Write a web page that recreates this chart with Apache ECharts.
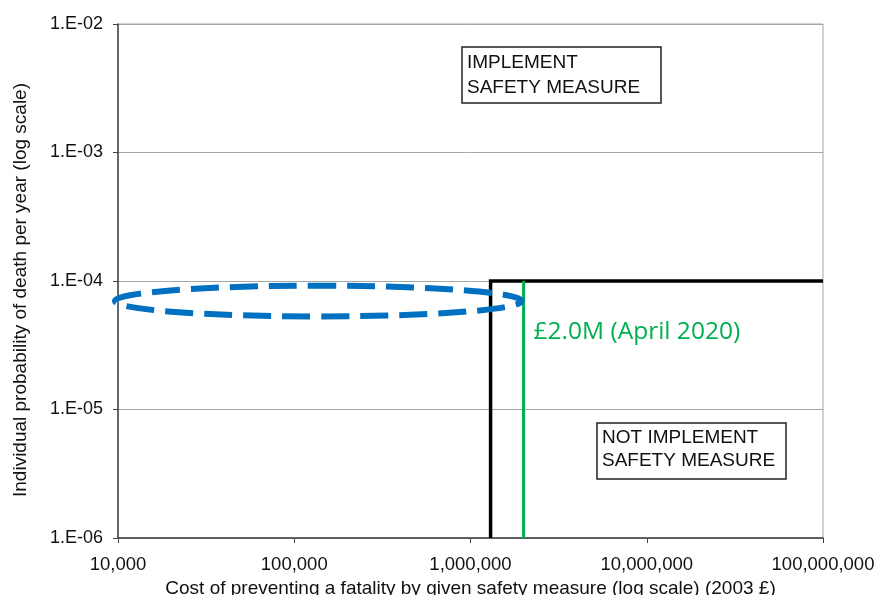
<!DOCTYPE html>
<html>
<head>
<meta charset="utf-8">
<script src="https://cdn.jsdelivr.net/npm/echarts@6/dist/echarts.min.js"></script>
<style>
  html, body { margin: 0; padding: 0; background: #fff; }
  #chart { width: 877px; height: 595px; }
</style>
</head>
<body>
<div id="chart"></div>
<script>
// Axis ranges (log scales)
const xRange = [1e4, 1e8];
const yRange = [1e-6, 1e-2];

// Decision boundary: cost threshold (vertical) and risk threshold (horizontal)
const boundaryCost = [1300000, 1300000, 100000000];
const boundaryRisk = [1e-6, 1e-4, 1e-4];

// Updated value of preventing a fatality
const vpfCost = [2000000, 2000000];
const vpfRisk = [1e-6, 1e-4];
const vpfLabel = '£2.0M (April 2020)';

// Highlighted region (ellipse extents in data units)
const ellipseCost = [9600, 1950000];
const ellipseRisk = [5.3e-5, 9.2e-5];

// Region annotations
const upperNote = ['IMPLEMENT', 'SAFETY MEASURE'];
const lowerNote = ['NOT IMPLEMENT', 'SAFETY MEASURE'];

const FONT = '"Liberation Sans", Arial, sans-serif';
const chart = echarts.init(document.getElementById('chart'), null, { renderer: 'canvas' });

const toPairs = (xs, ys) => xs.map((x, i) => [x, ys[i]]);

chart.setOption({
  animation: false,
  backgroundColor: '#fff',
  grid: {
    left: 118, top: 24, right: 54, bottom: 57,
    containLabel: false, outerBoundsMode: 'none',
    show: true, borderColor: '#a6a6a6', borderWidth: 1
  },
  xAxis: {
    type: 'log', logBase: 10, min: xRange[0], max: xRange[1],
    name: 'Cost of preventing a fatality by given safety measure (log scale) (2003 £)',
    nameLocation: 'middle', nameGap: 40,
    nameTextStyle: { fontFamily: FONT, fontSize: 19, color: '#111' },
    axisLine: { lineStyle: { color: '#444', width: 1.5 } },
    axisTick: { show: true, length: 5, lineStyle: { color: '#444' } },
    minorTick: { show: false },
    splitLine: { show: false },
    axisLabel: {
      fontFamily: FONT, fontSize: 18.5, color: '#111', margin: 17,
      formatter: v => Math.round(v).toLocaleString('en-US')
    }
  },
  yAxis: {
    type: 'log', logBase: 10, min: yRange[0], max: yRange[1],
    name: 'Individual probability of death per year (log scale)',
    nameLocation: 'middle', nameGap: 88,
    nameTextStyle: { fontFamily: FONT, fontSize: 19, color: '#111', padding: [0, 18, 0, 0] },
    axisLine: { lineStyle: { color: '#444', width: 1.5 } },
    axisTick: { show: true, length: 5, lineStyle: { color: '#444' } },
    splitLine: { show: true, lineStyle: { color: '#a6a6a6', width: 1 } },
    axisLabel: {
      fontFamily: FONT, fontSize: 18, color: '#111', margin: 15,
      formatter: v => '1.E-' + String(-Math.round(Math.log10(v))).padStart(2, '0')
    }
  },
  series: [
    {
      type: 'line', data: toPairs(boundaryCost, boundaryRisk),
      showSymbol: false, silent: true, z: 3,
      lineStyle: { color: '#000', width: 3.5, join: 'miter', cap: 'butt' }
    },
    {
      type: 'line', data: toPairs(vpfCost, vpfRisk),
      showSymbol: false, silent: true, z: 4,
      lineStyle: { color: '#00b050', width: 3 }
    }
  ]
});

// Overlay: ellipse, value label and region notes, placed through the axes
const p0 = chart.convertToPixel({ gridIndex: 0 }, [ellipseCost[0], ellipseRisk[1]]);
const p1 = chart.convertToPixel({ gridIndex: 0 }, [ellipseCost[1], ellipseRisk[0]]);
const vpfTop = chart.convertToPixel({ gridIndex: 0 }, [vpfCost[0], vpfRisk[1]]);

function noteBox(x, y, w, h, lines, lineGap) {
  return {
    type: 'group', x: x, y: y, z: 20,
    children: [
      { type: 'rect', shape: { x: 0, y: 0, width: w, height: h },
        style: { fill: '#fff', stroke: '#222', lineWidth: 1.5 } },
      { type: 'text', x: 5, y: 3,
        style: { text: lines.join('\n'), fontFamily: FONT, fontSize: 19,
                 lineHeight: lineGap, fill: '#111' } }
    ]
  };
}

chart.setOption({
  graphic: [
    {
      type: 'ellipse', z: 30,
      shape: {
        cx: (p0[0] + p1[0]) / 2, cy: (p0[1] + p1[1]) / 2,
        rx: (p1[0] - p0[0]) / 2, ry: (p1[1] - p0[1]) / 2
      },
      style: { fill: 'none', stroke: '#0070c0', lineWidth: 6, lineDash: [28, 11] }
    },
    {
      type: 'text', z: 25,
      x: vpfTop[0] + 10, y: vpfTop[1] + 51,
      style: { text: vpfLabel, fontFamily: '"Open Sans", "Noto Sans", sans-serif',
               fontSize: 24.5, fill: '#00b050', verticalAlign: 'middle' }
    },
    noteBox(462, 47, 199, 56, upperNote, 25),
    noteBox(597, 423, 189, 56, lowerNote, 23)
  ]
});
</script>
</body>
</html>
